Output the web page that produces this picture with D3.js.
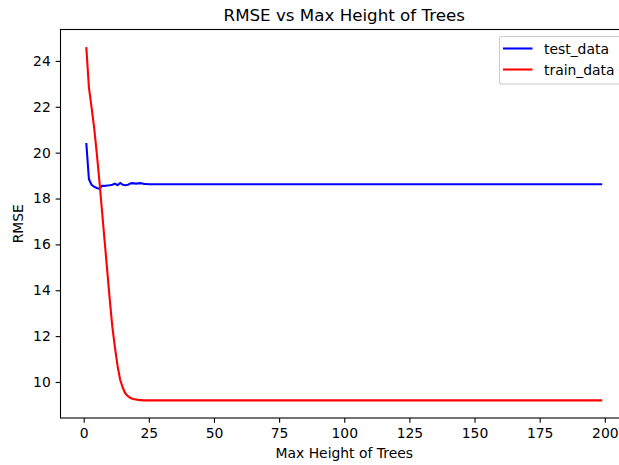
<!DOCTYPE html>
<html>
<head>
<meta charset="utf-8">
<script src="https://cdn.jsdelivr.net/npm/d3@7"></script>
<style>
  html, body { margin: 0; padding: 0; background: #fff; }
  svg { display: block; font-family: "DejaVu Sans", sans-serif; }
</style>
</head>
<body>
<svg id="chart" width="619" height="465"></svg>
<script>
// Max height of trees (x); the curves are flat from x=30 up to x=199
const maxHeight = [1,2,3,4,5,6,7,8,9,10,11,12,13,14,15,16,17,18,19,20,21,22,23,24,25,26,27,28,29,30,199];
const testData  = [20.42,18.85,18.6,18.52,18.46,18.42,18.55,18.55,18.57,18.58,18.6,18.65,18.58,18.68,18.6,18.58,18.6,18.66,18.67,18.65,18.66,18.67,18.64,18.63,18.62,18.62,18.62,18.62,18.62,18.62,18.62];
const trainData = [24.6,22.85,22.0,21.1,20.0,18.8,17.5,16.2,14.9,13.6,12.4,11.5,10.7,10.1,9.75,9.5,9.38,9.3,9.26,9.24,9.22,9.21,9.2,9.2,9.2,9.2,9.2,9.2,9.2,9.2,9.2];
const xTicks = [0,25,50,75,100,125,150,175,200];
const yTicks = [10,12,14,16,18,20,22,24];
const seriesNames = ["test_data", "train_data"];
const seriesColors = ["#0000ff", "#ff0000"];

(function () {
const svg = d3.select("#chart");
const pL = 60.5, pT = 29.5, pR = 628, pB = 418;

const xMin = d3.min(maxHeight), xMax = d3.max(maxHeight);
const xPad = (xMax - xMin) * 0.05;
const allY = testData.concat(trainData);
const yMin = d3.min(allY), yMax = d3.max(allY);
const yPad = (yMax - yMin) * 0.05;

const x = d3.scaleLinear().domain([xMin - xPad, xMax + xPad]).range([pL, pR]);
const y = d3.scaleLinear().domain([yMin - yPad, yMax + yPad]).range([pB, pT]);

const fontSize = 13.9;

// lines
const series = [testData, trainData];
const line = d3.line().x((d, i) => x(maxHeight[i])).y(d => y(d));
series.forEach((s, k) => {
  svg.append("path").datum(s)
    .attr("d", line)
    .attr("fill", "none")
    .attr("stroke", seriesColors[k])
    .attr("stroke-width", 2.08)
    .attr("stroke-linejoin", "round")
    .attr("stroke-linecap", "butt");
});

// axes
const xAxis = d3.axisBottom(x).tickValues(xTicks).tickSizeInner(4.86).tickSizeOuter(0).tickPadding(4.86);
const yAxis = d3.axisLeft(y).tickValues(yTicks).tickSizeInner(4.86).tickSizeOuter(0).tickPadding(4.86);

const gx = svg.append("g").attr("transform", `translate(0,${pB})`).call(xAxis);
const gy = svg.append("g").attr("transform", `translate(${pL},0)`).call(yAxis);
[gx, gy].forEach(g => {
  g.select(".domain").remove();
  g.selectAll(".tick line").attr("stroke", "#000").attr("stroke-width", 1.1);
  g.selectAll(".tick text").attr("fill", "#000").style("font-size", fontSize + "px")
    .style("font-family", "DejaVu Sans, sans-serif");
});

// spines
svg.append("rect")
  .attr("x", pL).attr("y", pT)
  .attr("width", pR - pL).attr("height", pB - pT)
  .attr("fill", "none").attr("stroke", "#000").attr("stroke-width", 1.1);

// title and labels
const cx = (pL + pR) / 2;
svg.append("text").attr("x", cx).attr("y", 21)
  .attr("text-anchor", "middle").style("font-size", "16.7px").attr("fill", "#000")
  .text("RMSE vs Max Height of Trees");
svg.append("text").attr("x", cx).attr("y", 458)
  .attr("text-anchor", "middle").style("font-size", fontSize + "px").attr("fill", "#000")
  .text("Max Height of Trees");
svg.append("text")
  .attr("transform", `translate(23,${(pT + pB) / 2}) rotate(-90)`)
  .attr("text-anchor", "middle").style("font-size", fontSize + "px").attr("fill", "#000")
  .text("RMSE");

// legend
const lg = svg.append("g");
lg.append("rect")
  .attr("x", 499.5).attr("y", 36.5).attr("width", 121).attr("height", 47.5)
  .attr("rx", 2.8).attr("ry", 2.8)
  .attr("fill", "#fff").attr("fill-opacity", 0.8)
  .attr("stroke", "#cccccc").attr("stroke-width", 1.1);
seriesNames.forEach((name, k) => {
  const ly = 48.5 + k * 21;
  lg.append("line")
    .attr("x1", 503).attr("x2", 532.5).attr("y1", ly).attr("y2", ly)
    .attr("stroke", seriesColors[k]).attr("stroke-width", 2.08);
  lg.append("text").attr("x", 544).attr("y", ly + 5)
    .style("font-size", fontSize + "px").attr("fill", "#000")
    .text(name);
});
})();
</script>
</body>
</html>
